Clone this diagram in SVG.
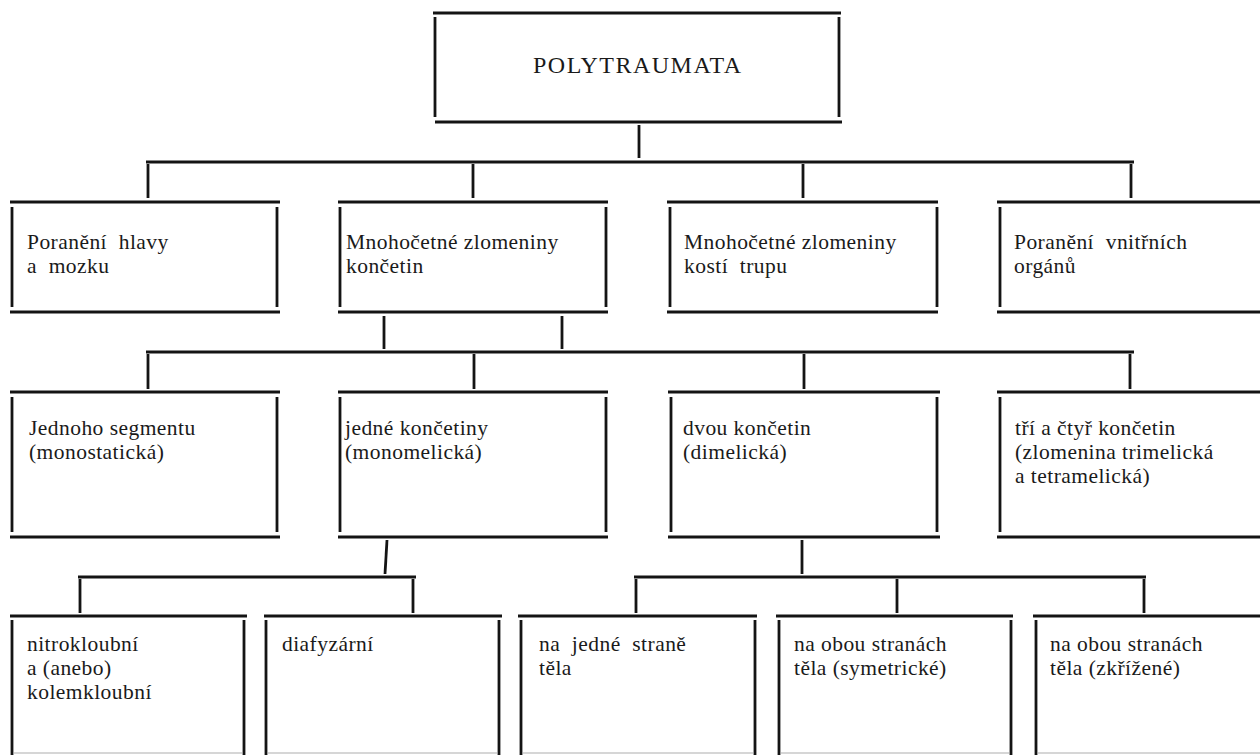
<svg xmlns="http://www.w3.org/2000/svg" width="1260" height="755" viewBox="0 0 1260 755">
<style>
.h{stroke:#141414;stroke-width:3.2;fill:none}
.v{stroke:#141414;stroke-width:2.8;fill:none}
.c{stroke:#141414;stroke-width:2.8;fill:none}
.f{stroke:#c8c8c8;stroke-width:1.5;fill:none}
text{font-family:"Liberation Serif","Times New Roman",serif;font-size:21.5px;letter-spacing:0.45px;fill:#1a1a1a}
.t{font-size:24px;letter-spacing:1.5px}
</style>
<rect width="1260" height="755" fill="#ffffff"/>
<g id="connectors">
<path class="c" d="M639 125V158"/>
<path class="h" d="M146 162H1134"/>
<path class="c" d="M148 164V198M473 164V198M803 164V198M1131 164V198"/>
<path class="c" d="M384 316V349M562 316V349"/>
<path class="h" d="M146 352H1134"/>
<path class="c" d="M148 354V389M474 354V389M804 354V389M1130 354V389"/>
<path class="c" d="M387 540L385 574"/>
<path class="h" d="M78 577H416"/>
<path class="c" d="M80 579V613M413 579V613"/>
<path class="c" d="M802 540V574"/>
<path class="h" d="M634 577H1146"/>
<path class="c" d="M636 579V613M897 579V613M1144 579V613"/>
</g>
<g id="n0">
<path class="h" d="M433 13H841M435 122H842"/>
<path class="v" d="M435 17V117M839 17V117"/>
<text class="t" x="533" y="73">POLYTRAUMATA</text>
</g>
<g id="n1">
<path class="h" d="M10 202H280M10 312H280"/>
<path class="v" d="M12 207V307M277 207V307"/>
<text x="27" y="249" xml:space="preserve">Poranění  hlavy</text>
<text x="27" y="273" xml:space="preserve">a  mozku</text>
</g>
<g id="n2">
<path class="h" d="M338 202H608M338 312H608"/>
<path class="v" d="M340 207V307M606 207V307"/>
<text x="346" y="249">Mnohočetné zlomeniny</text>
<text x="346" y="273">končetin</text>
</g>
<g id="n3">
<path class="h" d="M667 202H938M667 312H938"/>
<path class="v" d="M670 207V307M937 207V307"/>
<text x="684" y="249">Mnohočetné zlomeniny</text>
<text x="684" y="273" xml:space="preserve">kostí  trupu</text>
</g>
<g id="n4">
<path class="h" d="M997 202H1260M997 312H1260"/>
<path class="v" d="M1000 207V307"/>
<text x="1014" y="249" xml:space="preserve">Poranění  vnitřních</text>
<text x="1014" y="273">orgánů</text>
</g>
<g id="n5">
<path class="h" d="M10 392H280M10 537H280"/>
<path class="v" d="M12 397V532M277 397V532"/>
<text x="29" y="435">Jednoho segmentu</text>
<text x="29" y="459">(monostatická)</text>
</g>
<g id="n6">
<path class="h" d="M338 392H608M338 537H608"/>
<path class="v" d="M340 397V532M606 397V532"/>
<text x="345" y="435">jedné končetiny</text>
<text x="345" y="459">(monomelická)</text>
</g>
<g id="n7">
<path class="h" d="M668 392H940M668 537H940"/>
<path class="v" d="M671 397V532M937 397V532"/>
<text x="683" y="435">dvou končetin</text>
<text x="683" y="459">(dimelická)</text>
</g>
<g id="n8">
<path class="h" d="M997 392H1260M997 537H1260"/>
<path class="v" d="M1000 397V532"/>
<text x="1015" y="435">tří a čtyř končetin</text>
<text x="1015" y="459">(zlomenina trimelická</text>
<text x="1015" y="483">a tetramelická)</text>
</g>
<g id="n9">
<path class="h" d="M10 616H247"/>
<path class="f" d="M14 753H242"/>
<path class="v" d="M12 620V755M244 620V755"/>
<text x="27" y="651">nitrokloubní</text>
<text x="27" y="675">a (anebo)</text>
<text x="27" y="699">kolemkloubní</text>
</g>
<g id="n10">
<path class="h" d="M264 616H502"/>
<path class="f" d="M268 753H497"/>
<path class="v" d="M266 620V755M499 620V755"/>
<text x="282" y="651">diafyzární</text>
</g>
<g id="n11">
<path class="h" d="M518 616H757"/>
<path class="f" d="M523 753H753"/>
<path class="v" d="M521 620V755M755 620V755"/>
<text x="539" y="651" xml:space="preserve">na  jedné  straně</text>
<text x="539" y="675">těla</text>
</g>
<g id="n12">
<path class="h" d="M776 616H1013"/>
<path class="f" d="M781 753H1009"/>
<path class="v" d="M779 620V755M1011 620V755"/>
<text x="794" y="651">na obou stranách</text>
<text x="794" y="675">těla (symetrické)</text>
</g>
<g id="n13">
<path class="h" d="M1033 616H1260"/>
<path class="f" d="M1038 753H1260"/>
<path class="v" d="M1036 620V755"/>
<text x="1050" y="651">na obou stranách</text>
<text x="1050" y="675">těla (zkřížené)</text>
</g>
</svg>
